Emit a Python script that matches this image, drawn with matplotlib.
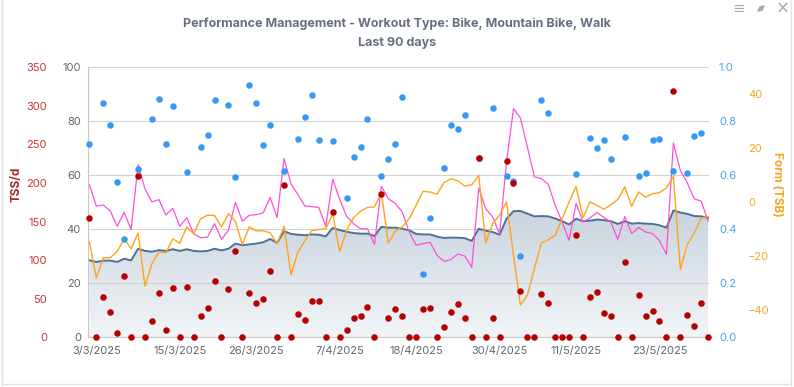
import numpy as np
import pandas as pd
import matplotlib
matplotlib.use("Agg")
import matplotlib.pyplot as plt
import matplotlib.dates as mdates
from matplotlib.colors import LinearSegmentedColormap
from matplotlib.lines import Line2D
from matplotlib.patches import FancyArrowPatch

plt.rcParams['font.family'] = ['Inter', 'DejaVu Sans']

# ── data ──────────────────────────────────────────────────────────
START, END = "2025-03-02", "2025-05-30"

# daily training stress score (red dots, TSS/d axis)
tss = [155, 0, 52, 33, 6, 80, 0, 209, 0, 21, 57, 10, 64, 0, 65, 0, 28, 38, 73, 0,
       62, 112, 0, 57, 45, 50, 86, 0, 197, 0, 30, 22, 47, 47, 0, 163, 0, 10, 25, 28,
       39, 0, 186, 25, 37, 27, 0, 0, 37, 38, 0, 14, 33, 43, 25, 0, 233, 0, 25, 0,
       228, 200, 60, 0, 0, 56, 44, 0, 0, 0, 133, 0, 52, 59, 32, 28, 0, 97, 0, 55,
       28, 34, 21, 0, 319, 0, 29, 15, 44, 0]

# intensity factor (blue dots, 0-1 axis) - only on workout days
if_days = [0, 2, 3, 4, 5, 7, 9, 10, 11, 12, 14, 16, 17, 18, 20, 21, 23, 24, 25, 26,
           28, 30, 31, 32, 33, 35, 37, 38, 39, 40, 42, 43, 44, 45, 48, 49, 51, 52, 53, 54,
           56, 58, 60, 61, 62, 65, 66, 70, 72, 73, 74, 75, 77, 79, 80, 81, 82, 84, 86, 87, 88]
if_vals = [0.717, 0.869, 0.785, 0.575, 0.363, 0.625, 0.810, 0.884, 0.717, 0.858,
           0.611, 0.705, 0.750, 0.878, 0.860, 0.593, 0.933, 0.869, 0.712, 0.787,
           0.617, 0.734, 0.815, 0.899, 0.731, 0.727, 0.516, 0.668, 0.704, 0.807,
           0.596, 0.659, 0.717, 0.890, 0.233, 0.441, 0.628, 0.787, 0.773, 0.824,
           0.665, 0.850, 0.596, 0.579, 0.300, 0.879, 0.831, 0.604, 0.739, 0.700,
           0.730, 0.662, 0.743, 0.596, 0.609, 0.730, 0.734, 0.616, 0.609, 0.747, 0.755]

# fitness (CTL, area) and fatigue (ATL, pink) on the 0-100 axis
ctl = [28.5, 27.9, 28.4, 28.4, 27.9, 29.1, 28.5, 32.8, 32.0, 31.7, 32.3, 32.0, 32.6, 32.0, 32.6,
       32.0, 31.8, 32.0, 32.8, 32.2, 32.8, 34.7, 34.1, 34.4, 34.7, 35.2, 36.4, 35.0, 39.3, 38.3,
       38.0, 37.8, 38.1, 38.0, 37.4, 40.5, 39.7, 39.1, 38.6, 38.4, 38.4, 37.5, 40.9, 40.6, 40.6,
       40.2, 39.6, 38.3, 38.1, 38.1, 37.3, 36.8, 36.9, 36.9, 36.7, 35.7, 40.2, 39.5, 39.0, 38.0,
       43.9, 46.7, 46.8, 45.8, 44.8, 44.9, 44.8, 44.0, 43.0, 41.8, 43.9, 43.0, 43.2, 43.6, 43.4,
       43.0, 42.0, 43.0, 42.1, 42.3, 42.1, 42.0, 41.5, 40.6, 47.0, 46.2, 45.7, 44.9, 44.8, 44.2]
atl = [56.5, 48.6, 49.0, 46.8, 41.1, 46.3, 39.9, 63.9, 55.0, 50.1, 51.0, 45.3, 47.8, 41.1, 44.3,
       38.4, 36.9, 37.1, 42.1, 36.3, 39.6, 50.0, 43.0, 45.2, 45.4, 46.1, 51.8, 44.4, 66.2, 56.8,
       52.8, 48.6, 48.4, 48.1, 41.1, 58.6, 51.1, 44.8, 42.1, 40.2, 40.2, 34.4, 55.9, 51.3, 49.6,
       46.4, 39.0, 34.1, 34.7, 35.2, 30.4, 28.1, 28.8, 30.9, 30.1, 25.9, 55.3, 47.6, 44.6, 38.3,
       64.9, 84.7, 81.2, 70.5, 59.4, 58.8, 56.7, 48.9, 42.7, 35.9, 49.6, 42.7, 44.2, 46.2, 44.4,
       42.7, 36.2, 44.7, 38.4, 40.7, 39.0, 38.4, 35.8, 30.7, 72.0, 61.8, 57.2, 51.3, 50.4, 43.0]

# form (TSB, orange line)
tsb = [-14.7, -28.0, -20.6, -20.5, -18.2, -13.5, -17.2, -11.4, -31.0, -22.7, -18.4, -18.7, -13.5,
       -15.2, -9.1, -11.6, -6.1, -4.8, -4.9, -9.1, -4.2, -7.1, -15.7, -9.1, -10.6, -10.5, -11.3,
       -15.3, -8.9, -26.8, -18.4, -14.2, -10.5, -10.1, -9.8, -4.3, -18.2, -10.4, -5.7, -3.3, -1.9,
       -1.7, 3.4, -15.1, -10.7, -9.1, -6.1, -1.1, 4.1, 3.8, 3.0, 7.3, 8.7, 8.0, 6.0, 6.5, 10.0,
       -15.1, -7.9, -4.8, 0.1, -19.6, -38.1, -34.4, -24.6, -15.1, -13.9, -12.2, -6.1, 0.1, 5.9,
       -5.7, 0.1, -1.1, -2.6, -0.9, 1.0, 5.7, -1.5, 3.8, 1.9, 3.2, 3.6, 5.3, 9.6, -24.8, -15.7,
       -11.3, -5.8, -5.4]

tick_labels = ["3/3/2025", "15/3/2025", "26/3/2025", "7/4/2025",
               "18/4/2025", "30/4/2025", "11/5/2025", "23/5/2025"]

TITLE = "Performance Management - Workout Type: Bike, Mountain Bike, Walk"
SUBTITLE = "Last 90 days"

# ── colours ───────────────────────────────────────────────────────
GRAY_TXT = "#666666"
RED = "#b50000"
RED_TXT = "#c83737"
BLUE = "#3399f5"
BLUE_TXT = "#4aa0f0"
ORANGE = "#ffa31a"
ORANGE_TXT = "#f5a623"
PINK = "#ff4fd8"
CTL_LINE = "#4b7394"
ICON = "#a8a8a8"

days = pd.date_range(START, END, freq="D")
x = mdates.date2num(days)
tick_x = mdates.date2num(pd.to_datetime(tick_labels, format="%d/%m/%Y"))
if_x = x[if_days]

W, H = 794, 387
fig = plt.figure(figsize=(W / 100, H / 100), dpi=100)
ax = fig.add_axes([88 / W, 1 - 337.3 / H, 620.5 / W, 270 / H])

# ── fitness area with vertical gradient ───────────────────────────
poly = ax.fill_between(x, ctl, 0, color="none", lw=0)
cmap = LinearSegmentedColormap.from_list("ctl", ["#f3f5f8", "#c6d2dd"])
grad = np.linspace(0, 1, 256).reshape(-1, 1)
img = ax.imshow(grad, extent=[x[0], x[-1], 0, 50], origin="lower",
                aspect="auto", cmap=cmap, zorder=0.2)
img.set_clip_path(poly.get_paths()[0], transform=ax.transData)
ax.plot(x, ctl, color=CTL_LINE, lw=1.4, zorder=2)
ax.plot(x, atl, color=PINK, lw=0.9, zorder=2.1)

ax.set_xlim(x[0] - 0.2, x[-1] + 0.05)
ax.set_ylim(0, 100)
ax.set_yticks([0, 20, 40, 60, 80, 100])
ax.yaxis.grid(True, color="#d3d3d3", lw=0.8, zorder=0.5)
ax.set_axisbelow(True)
for s in ["top", "right"]:
    ax.spines[s].set_visible(False)
ax.spines["left"].set_color("#c8c8c8")
ax.spines["bottom"].set_color("#c8c8c8")
ax.tick_params(axis="y", length=0, pad=5, labelsize=8, labelcolor=GRAY_TXT)
ax.set_xticks(tick_x)
ax.set_xticklabels(tick_labels)
ax.tick_params(axis="x", length=0, pad=6.5, labelsize=8, labelcolor=GRAY_TXT)

# ── form (TSB) on the far right ───────────────────────────────────
ax_tsb = ax.twinx()
ax_tsb.plot(x, tsb, color=ORANGE, lw=1.0, zorder=2)
ax_tsb.set_ylim(-50, 50)
ax_tsb.set_yticks([-40, -20, 0, 20, 40])
ax_tsb.tick_params(axis="y", length=0, pad=28.5, labelsize=8, labelcolor=ORANGE_TXT)

# ── intensity factor (blue dots) ──────────────────────────────────
ax_if = ax.twinx()
ax_if.scatter(if_x, if_vals, s=22, color=BLUE, lw=0, zorder=3, clip_on=False)
ax_if.set_ylim(0, 1)
ax_if.set_yticks([0, 0.2, 0.4, 0.6, 0.8, 1.0])
ax_if.set_yticklabels([f"{v:.1f}" for v in [0, 0.2, 0.4, 0.6, 0.8, 1.0]])
ax_if.tick_params(axis="y", length=0, pad=7.5, labelsize=8, labelcolor=BLUE_TXT)

# ── TSS/d (red dots) on the far left ──────────────────────────────
ax_tss = ax.twinx()
ax_tss.scatter(x, tss, s=22, color=RED, lw=0, zorder=3, clip_on=False)
ax_tss.set_ylim(0, 350)
ax_tss.set_yticks(range(0, 351, 50))
ax_tss.yaxis.tick_left()
ax_tss.tick_params(axis="y", length=0, pad=29.5, labelsize=8, labelcolor=RED_TXT)

for a in [ax_tsb, ax_if, ax_tss]:
    for s in a.spines.values():
        s.set_visible(False)
    a.set_xlim(ax.get_xlim())

# ── axis titles, chart titles ─────────────────────────────────────
fig.text(17 / W, 1 - 184 / H, "TSS/d", rotation=90, ha="center", va="center",
         fontsize=8.5, color="#a52a2a", fontweight="bold")
fig.text(777 / W, 1 - 184 / H, "Form (TSB)", rotation=270, ha="center", va="center",
         fontsize=8.5, color=ORANGE_TXT, fontweight="bold")
fig.text(0.5, 1 - 24 / H, TITLE, ha="center", va="center", fontsize=9,
         color="#666f82", fontweight="bold")
fig.text(0.5, 1 - 43 / H, SUBTITLE, ha="center", va="center", fontsize=9,
         color="#666f82", fontweight="bold")

# card border + menu / expand / close icons
for xx in [2, 791]:
    fig.add_artist(Line2D([xx / W, xx / W], [0, 1], color="#e2e2e2", lw=1))
fig.add_artist(Line2D([2 / W, 791 / W], [1 - 384 / H, 1 - 384 / H], color="#e2e2e2", lw=1))
fig.text(739 / W, 1 - 9 / H, "\u2261", ha="center", va="center", fontsize=11,
         color=ICON, family=["DejaVu Sans"])
fig.add_artist(FancyArrowPatch((755 / W, 1 - 14 / H), (767 / W, 1 - 3 / H),
                               transform=fig.transFigure, arrowstyle="<|-|>",
                               mutation_scale=6, color=ICON, lw=1.2))
fig.text(783 / W, 1 - 9 / H, "\u00d7", ha="center", va="center", fontsize=12,
         color=ICON, family=["DejaVu Sans"])

fig.savefig("out.png", dpi=100)
plt.close(fig)
